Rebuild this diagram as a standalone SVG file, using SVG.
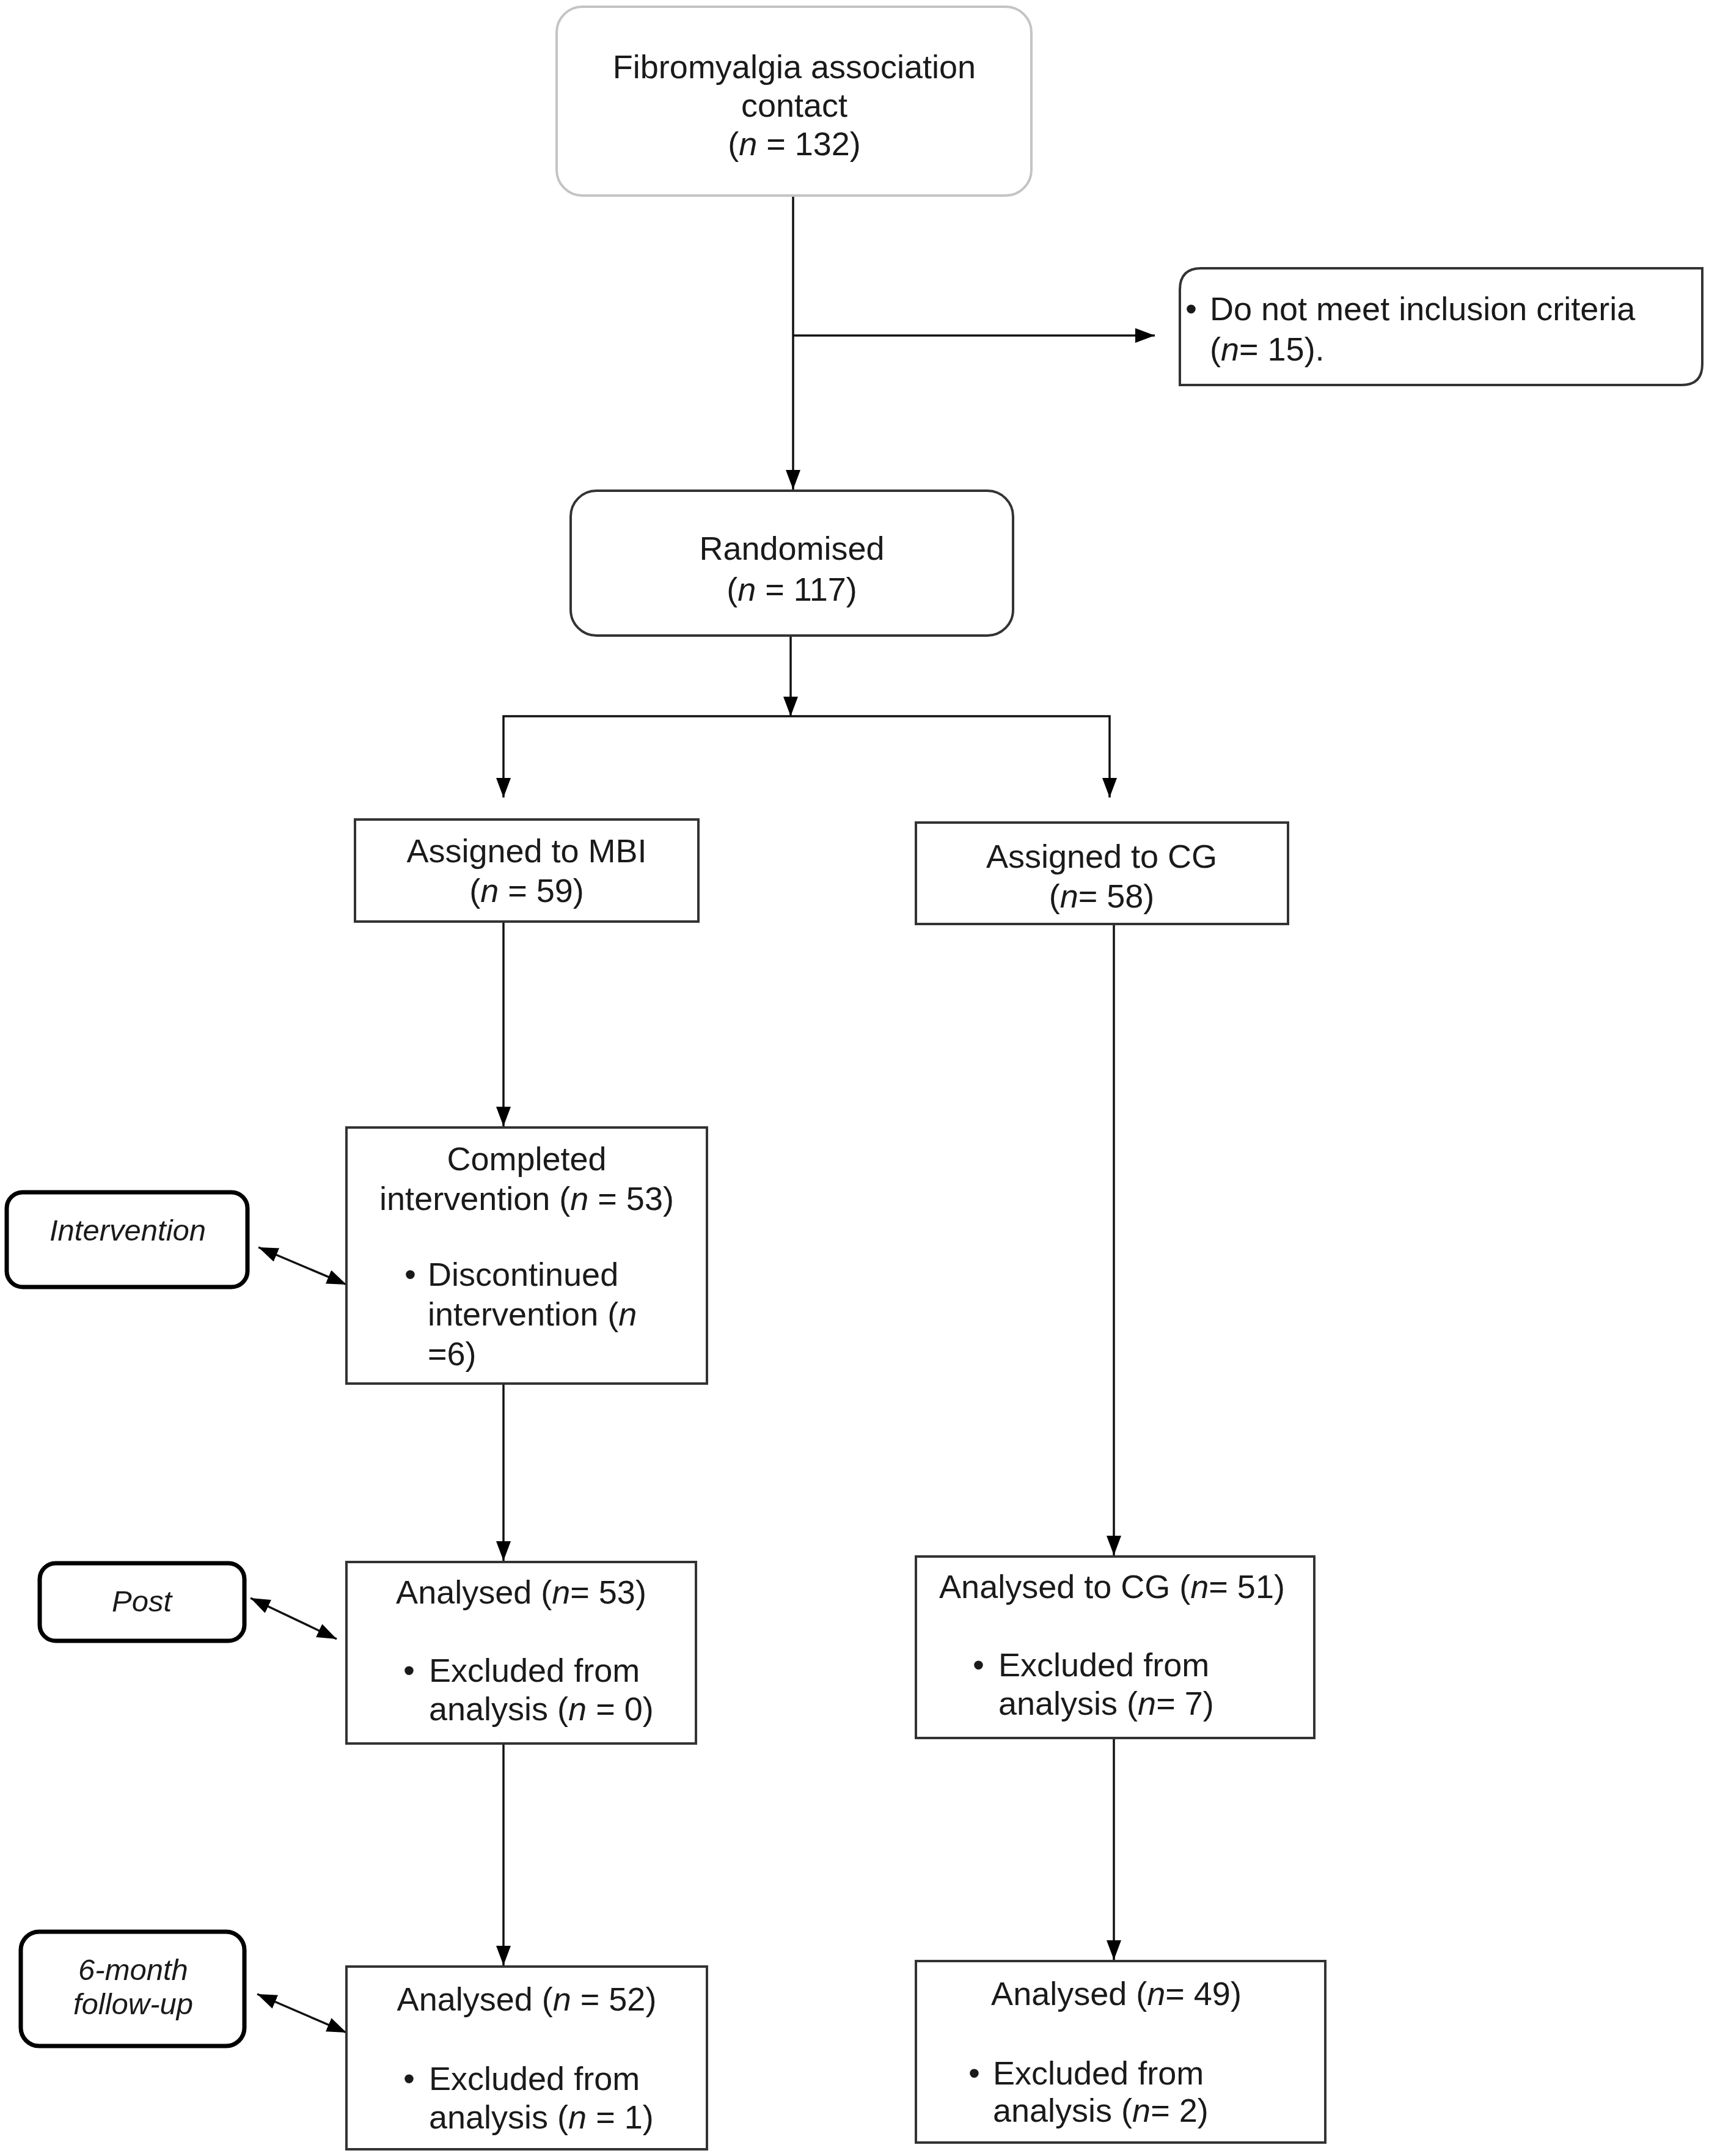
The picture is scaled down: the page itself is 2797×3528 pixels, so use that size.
<svg xmlns="http://www.w3.org/2000/svg" width="2797" height="3528" viewBox="0 0 2797 3528">
<style>
text{font-family:"Liberation Sans",Arial,sans-serif;font-size:54px;fill:#1a1a1a}
.c{text-anchor:middle}
.side{font-size:49px;font-style:italic}
.box{fill:#fff;stroke:#333;stroke-width:4}
.top{fill:#fff;stroke:#c4c4c4;stroke-width:4}
.sbox{fill:#fff;stroke:#000;stroke-width:7}
.ln{fill:none;stroke:#111;stroke-width:3.5}
</style>
<defs>
<marker id="ah" viewBox="0 0 32 24" refX="32" refY="12" markerWidth="32" markerHeight="24" markerUnits="userSpaceOnUse" orient="auto-start-reverse">
<path d="M0,0 L32,12 L0,24 z" fill="#000"/>
</marker>
</defs>
<g id="connectors">
<line class="ln" x1="1298" y1="320" x2="1298" y2="801" marker-end="url(#ah)"/>
<line class="ln" x1="1298" y1="549" x2="1890" y2="549" marker-end="url(#ah)"/>
<line class="ln" x1="1294" y1="1040" x2="1294" y2="1172" marker-end="url(#ah)"/>
<polyline class="ln" points="824,1305 824,1172 1816,1172 1816,1305" marker-start="url(#ah)" marker-end="url(#ah)"/>
<line class="ln" x1="824" y1="1508" x2="824" y2="1843" marker-end="url(#ah)"/>
<line class="ln" x1="824" y1="2264" x2="824" y2="2554" marker-end="url(#ah)"/>
<line class="ln" x1="824" y1="2853" x2="824" y2="3216" marker-end="url(#ah)"/>
<line class="ln" x1="1823" y1="1512" x2="1823" y2="2545" marker-end="url(#ah)"/>
<line class="ln" x1="1823" y1="2844" x2="1823" y2="3207" marker-end="url(#ah)"/>
<line class="ln" x1="423" y1="2041" x2="567" y2="2102" marker-start="url(#ah)" marker-end="url(#ah)"/>
<line class="ln" x1="410" y1="2615" x2="551" y2="2682" marker-start="url(#ah)" marker-end="url(#ah)"/>
<line class="ln" x1="421" y1="3263" x2="567" y2="3326" marker-start="url(#ah)" marker-end="url(#ah)"/>
</g>
<g id="contact">
<rect class="top" x="911" y="11" width="777" height="309" rx="42"/>
<text class="c" x="1300" y="128">Fibromyalgia association</text>
<text class="c" x="1300" y="191">contact</text>
<text class="c" x="1300" y="254">(<tspan font-style="italic">n</tspan> = 132)</text>
</g>
<g id="excluded">
<path class="box" d="M1966,439 H2786 V596 Q2786,630 2752,630 H1931 V474 Q1931,439 1966,439 z"/>
<text x="1940" y="524">•</text>
<text x="1980" y="524">Do not meet inclusion criteria</text>
<text x="1980" y="590">(<tspan font-style="italic">n</tspan>= 15).</text>
</g>
<g id="randomised">
<rect class="box" x="934" y="803" width="724" height="237" rx="42"/>
<text class="c" x="1296" y="916">Randomised</text>
<text class="c" x="1296" y="983">(<tspan font-style="italic">n</tspan> = 117)</text>
</g>
<g id="assigned-mbi">
<rect class="box" x="581" y="1341" width="562" height="167"/>
<text class="c" x="862" y="1411">Assigned to MBI</text>
<text class="c" x="862" y="1476">(<tspan font-style="italic">n</tspan> = 59)</text>
</g>
<g id="assigned-cg">
<rect class="box" x="1499" y="1346" width="609" height="166"/>
<text class="c" x="1803" y="1420">Assigned to CG</text>
<text class="c" x="1803" y="1485">(<tspan font-style="italic">n</tspan>= 58)</text>
</g>
<g id="completed">
<rect class="box" x="567" y="1845" width="590" height="419"/>
<text class="c" x="862" y="1915">Completed</text>
<text class="c" x="862" y="1980">intervention (<tspan font-style="italic">n</tspan> = 53)</text>
<text x="662" y="2104">•</text>
<text x="700" y="2104">Discontinued</text>
<text x="700" y="2169">intervention (<tspan font-style="italic">n</tspan></text>
<text x="700" y="2234">=6)</text>
</g>
<g id="intervention-label">
<rect class="sbox" x="11" y="1951" width="394" height="155" rx="26"/>
<text class="c side" x="209" y="2030">Intervention</text>
</g>
<g id="analysed-mbi-post">
<rect class="box" x="567" y="2556" width="572" height="297"/>
<text class="c" x="853" y="2624">Analysed (<tspan font-style="italic">n</tspan>= 53)</text>
<text x="660" y="2752">•</text>
<text x="702" y="2752">Excluded from</text>
<text x="702" y="2815">analysis (<tspan font-style="italic">n</tspan> = 0)</text>
</g>
<g id="post-label">
<rect class="sbox" x="65" y="2558" width="335" height="127" rx="26"/>
<text class="c side" x="232" y="2637">Post</text>
</g>
<g id="analysed-mbi-follow">
<rect class="box" x="567" y="3218" width="590" height="299"/>
<text class="c" x="862" y="3290">Analysed (<tspan font-style="italic">n</tspan> = 52)</text>
<text x="660" y="3420">•</text>
<text x="702" y="3420">Excluded from</text>
<text x="702" y="3483">analysis (<tspan font-style="italic">n</tspan> = 1)</text>
</g>
<g id="followup-label">
<rect class="sbox" x="34" y="3161" width="366" height="187" rx="30"/>
<text class="c side" x="218" y="3240">6-month</text>
<text class="c side" x="218" y="3296">follow-up</text>
</g>
<g id="analysed-cg-post">
<rect class="box" x="1499" y="2547" width="652" height="297"/>
<text class="c" x="1820" y="2615">Analysed to CG (<tspan font-style="italic">n</tspan>= 51)</text>
<text x="1592" y="2743">•</text>
<text x="1634" y="2743">Excluded from</text>
<text x="1634" y="2806">analysis (<tspan font-style="italic">n</tspan>= 7)</text>
</g>
<g id="analysed-cg-follow">
<rect class="box" x="1499" y="3209" width="670" height="297"/>
<text class="c" x="1827" y="3281">Analysed (<tspan font-style="italic">n</tspan>= 49)</text>
<text x="1585" y="3411">•</text>
<text x="1625" y="3411">Excluded from</text>
<text x="1625" y="3472">analysis (<tspan font-style="italic">n</tspan>= 2)</text>
</g>
</svg>
